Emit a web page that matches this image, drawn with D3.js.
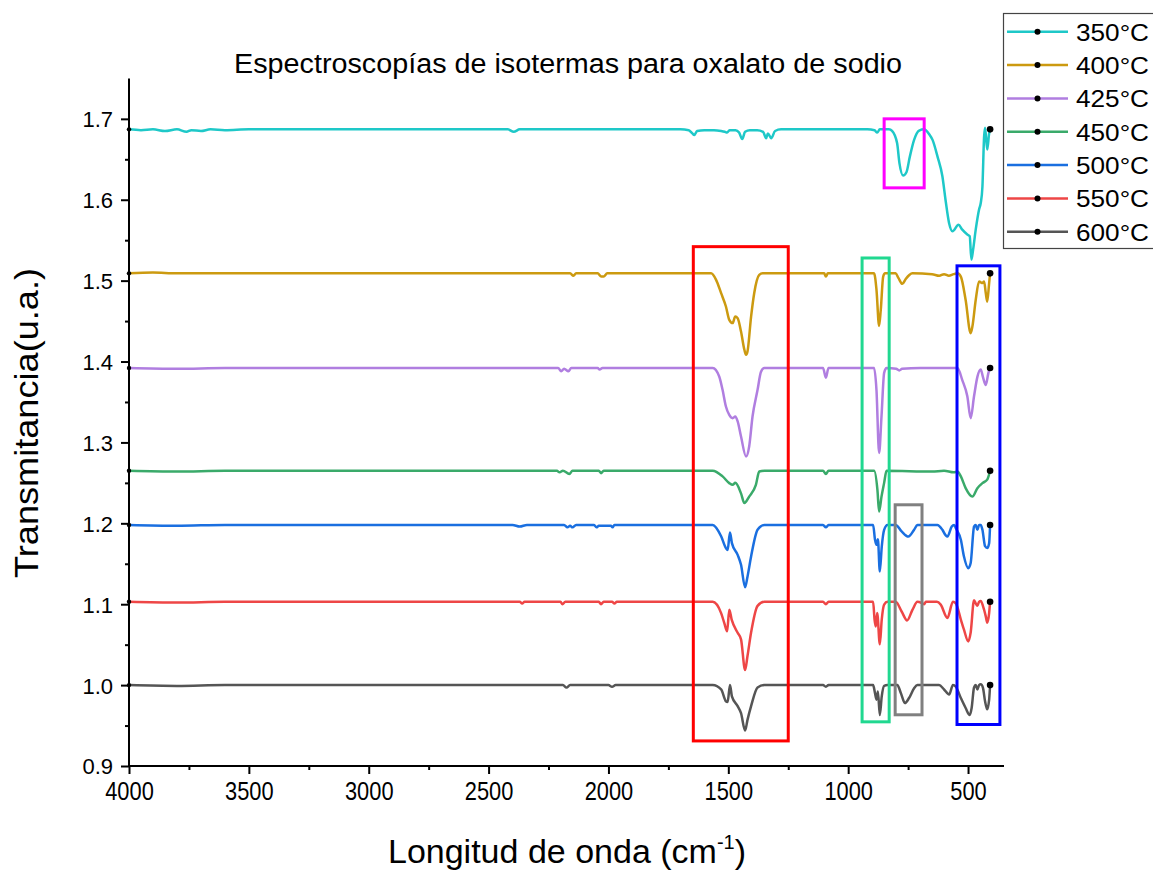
<!DOCTYPE html>
<html><head><meta charset="utf-8">
<script src="https://cdn.jsdelivr.net/npm/d3@7"></script>
<style>body{margin:0;background:#fff}svg{display:block;font-family:"Liberation Sans",Arial,sans-serif}</style>
</head><body>
<svg id="chart" width="1153" height="873"></svg>
<script>
// ---- data: [wavenumber (cm-1), transmittance] ----
const s350 = [[4000,1.687],[3950,1.686],[3900,1.687],[3850,1.685],[3800,1.687],[3760,1.684],[3740,1.686],[3700,1.685],[3660,1.687],[3600,1.686],[3500,1.687],[3000,1.687],[2420,1.687],[2395,1.684],[2370,1.687],[2100,1.687],[1700,1.687],[1665,1.686],[1650,1.682],[1642,1.680],[1630,1.685],[1600,1.686],[1560,1.686],[1530,1.685],[1515,1.684],[1505,1.683],[1495,1.686],[1470,1.686],[1455,1.683],[1442,1.675],[1430,1.684],[1410,1.686],[1380,1.686],[1355,1.684],[1342,1.676],[1335,1.682],[1321,1.676],[1305,1.685],[1280,1.687],[920,1.687],[890,1.686],[879,1.683],[868,1.687],[830,1.687],[817,1.685],[796,1.670],[786,1.645],[771,1.630],[757,1.634],[743,1.653],[725,1.674],[704,1.6855],[683,1.687],[676,1.686],[662,1.681],[648,1.674],[627,1.653],[607,1.629],[594,1.600],[579,1.571],[565,1.561],[540,1.569],[524,1.563],[503,1.557],[493,1.555],[486,1.526],[479,1.538],[468,1.563],[454,1.588],[447,1.596],[440,1.616],[433,1.678],[429,1.689],[420,1.662],[412,1.682],[408,1.687]];
const s400 = [[4000,1.509],[3900,1.510],[3800,1.509],[3700,1.509],[3000,1.509],[2200,1.509],[2160,1.509],[2146,1.506],[2135,1.509],[2045,1.509],[2030,1.505],[2020,1.505],[2005,1.509],[1700,1.509],[1600,1.509],[1572,1.509],[1551,1.501],[1530,1.4845],[1510,1.468],[1496,1.4515],[1482,1.4475],[1471,1.4556],[1461,1.4536],[1447,1.437],[1433,1.4145],[1426,1.4083],[1420,1.4124],[1405,1.4556],[1392,1.4845],[1371,1.507],[1357,1.509],[1120,1.509],[1100,1.509],[1093,1.505],[1085,1.509],[900,1.509],[892,1.509],[882,1.489],[871,1.444],[864,1.464],[854,1.505],[846,1.509],[802,1.509],[790,1.503],[774,1.496],[760,1.502],[745,1.507],[732,1.509],[650,1.508],[620,1.506],[600,1.508],[580,1.506],[560,1.508],[544,1.509],[530,1.505],[510,1.476],[489,1.435],[482,1.443],[468,1.476],[454,1.499],[447,1.498],[440,1.497],[433,1.499],[426,1.4845],[420,1.474],[412,1.497],[408,1.509]];
const s425 = [[4000,1.392],[3800,1.391],[3600,1.392],[3000,1.392],[2210,1.392],[2197,1.388],[2185,1.391],[2167,1.388],[2155,1.392],[2045,1.392],[2037,1.390],[2025,1.392],[1600,1.392],[1565,1.392],[1538,1.3815],[1524,1.365],[1510,1.3444],[1496,1.334],[1482,1.330],[1471,1.332],[1461,1.326],[1447,1.3073],[1426,1.2826],[1413,1.295],[1399,1.332],[1378,1.365],[1364,1.387],[1350,1.392],[1105,1.392],[1093,1.380],[1082,1.392],[900,1.392],[892,1.392],[882,1.365],[871,1.287],[861,1.332],[850,1.386],[840,1.392],[800,1.391],[787,1.389],[775,1.391],[700,1.392],[544,1.392],[524,1.377],[503,1.357],[489,1.330],[475,1.357],[461,1.381],[447,1.390],[438,1.381],[426,1.371],[415,1.386],[408,1.392]];
const s450 = [[4000,1.265],[3800,1.264],[3600,1.265],[3000,1.265],[2215,1.265],[2204,1.263],[2190,1.265],[2163,1.261],[2150,1.265],[2040,1.265],[2031,1.262],[2020,1.265],[1600,1.265],[1565,1.265],[1524,1.258],[1496,1.2497],[1482,1.2476],[1471,1.250],[1447,1.237],[1433,1.225],[1413,1.233],[1385,1.2476],[1371,1.264],[1350,1.265],[1105,1.265],[1093,1.261],[1082,1.265],[900,1.265],[892,1.265],[878,1.2414],[871,1.2146],[861,1.233],[850,1.250],[840,1.265],[650,1.264],[600,1.265],[560,1.263],[544,1.264],[530,1.258],[510,1.2435],[482,1.233],[461,1.2435],[440,1.2497],[420,1.254],[408,1.265]];
const s500 = [[4000,1.198],[3800,1.197],[3600,1.198],[3000,1.198],[2400,1.198],[2370,1.196],[2340,1.198],[2185,1.198],[2171,1.195],[2160,1.197],[2150,1.195],[2135,1.198],[2060,1.198],[2050,1.195],[2040,1.197],[1990,1.197],[1983,1.195],[1975,1.198],[1600,1.198],[1565,1.198],[1530,1.184],[1510,1.1694],[1503,1.167],[1493,1.1886],[1485,1.1755],[1461,1.161],[1447,1.1487],[1430,1.121],[1420,1.134],[1405,1.159],[1378,1.192],[1350,1.198],[1105,1.198],[1093,1.195],[1082,1.198],[900,1.198],[896,1.198],[888,1.1796],[882,1.1734],[876,1.1804],[868,1.1404],[860,1.171],[850,1.192],[836,1.198],[802,1.198],[777,1.190],[749,1.1836],[725,1.192],[711,1.198],[676,1.198],[628,1.198],[607,1.192],[593,1.185],[586,1.1836],[568,1.196],[558,1.198],[551,1.194],[530,1.1796],[517,1.159],[499,1.1446],[489,1.151],[475,1.196],[468,1.198],[461,1.192],[454,1.198],[447,1.198],[440,1.192],[429,1.1717],[420,1.1694],[412,1.1755],[408,1.198]];
const s550 = [[4000,1.103],[3800,1.102],[3600,1.103],[3000,1.103],[2370,1.103],[2360,1.101],[2350,1.103],[2200,1.103],[2192,1.100],[2180,1.103],[2040,1.103],[2031,1.100],[2020,1.103],[1985,1.103],[1975,1.101],[1965,1.103],[1600,1.103],[1565,1.103],[1530,1.089],[1517,1.077],[1505,1.0665],[1496,1.093],[1486,1.081],[1461,1.0647],[1447,1.0565],[1430,1.0186],[1420,1.036],[1405,1.065],[1378,1.098],[1350,1.103],[1105,1.103],[1093,1.100],[1082,1.103],[900,1.103],[896,1.103],[890,1.081],[885,1.0725],[879,1.089],[868,1.0506],[860,1.081],[850,1.0995],[836,1.103],[802,1.103],[777,1.091],[754,1.080],[732,1.093],[711,1.103],[690,1.101],[683,1.100],[676,1.103],[630,1.103],[614,1.0995],[586,1.083],[563,1.103],[551,1.101],[530,1.081],[517,1.0686],[499,1.054],[489,1.065],[475,1.105],[468,1.101],[461,1.098],[454,1.103],[447,1.104],[438,1.098],[426,1.085],[420,1.077],[412,1.089],[408,1.103]];
const s600 = [[4000,1.000],[3800,0.999],[3600,1.000],[3000,1.000],[2190,1.000],[2175,0.997],[2160,1.000],[2000,1.000],[1985,0.998],[1970,1.000],[1600,1.000],[1565,1.000],[1530,0.9946],[1510,0.980],[1503,0.979],[1493,1.000],[1485,0.986],[1461,0.974],[1447,0.9654],[1430,0.9438],[1420,0.957],[1405,0.974],[1378,0.997],[1350,1.000],[1105,1.000],[1093,0.998],[1082,1.000],[900,1.000],[896,1.000],[888,0.990],[882,0.982],[876,0.992],[868,0.963],[860,0.986],[850,0.999],[836,1.000],[795,1.000],[780,0.990],[763,0.9778],[746,0.984],[725,0.996],[711,1.000],[621,1.000],[600,0.9946],[579,0.9884],[563,1.000],[551,0.998],[530,0.984],[510,0.9717],[493,0.963],[485,0.9717],[475,0.997],[468,1.000],[461,0.9946],[454,1.000],[447,1.001],[438,0.997],[429,0.980],[420,0.970],[412,0.982],[408,1.000]];

const seriesNames = ["350°C","400°C","425°C","450°C","500°C","550°C","600°C"];
const seriesData = [s350, s400, s425, s450, s500, s550, s600];
const seriesColors = ["#1ec8c8","#cc9a10","#b07ee0","#3aaa6a","#1a6fe0","#ee4646","#555555"];

// highlight boxes [wn_left, wn_right, T_top, T_bottom]
const boxExtents = [[1646,1250,1.542,0.931],[942,829,1.528,0.9546],[850,683,1.700,1.6147],[804,692,1.2229,0.9633],[546,367,1.5183,0.9513]];
const boxColors = ["#ff0000","#20d890","#ff00ff","#808080","#0000ff"];

const xTicks = [4000,3500,3000,2500,2000,1500,1000,500];
const yTicks = [0.9,1.0,1.1,1.2,1.3,1.4,1.5,1.6,1.7];
const titleText = "Espectroscopías de isotermas para oxalato de sodio";

// ---- drawing ----
const svg = d3.select("#chart");
const x = d3.scaleLinear().domain([4000, 350]).range([129, 1004]);
const y = d3.scaleLinear().domain([0.9, 1.75]).range([766, 78.4]);

function squeeze(sel, f){
  sel.each(function(){
    const L = this.getComputedTextLength();
    d3.select(this).attr("textLength", L*f).attr("lengthAdjust","spacingAndGlyphs");
  });
}
function fitWidth(sel, w){
  sel.attr("textLength", w).attr("lengthAdjust","spacingAndGlyphs");
}

const line = d3.line().x(d=>x(d[0])).y(d=>y(d[1])).curve(d3.curveMonotoneX);

const plot = svg.append("g");
seriesData.forEach((s,i)=>{
  plot.append("path").datum(s).attr("d",line).attr("fill","none")
    .attr("stroke",seriesColors[i]).attr("stroke-width",2.5).attr("stroke-linejoin","round");
});
seriesData.forEach((s,i)=>{
  const a = s[0], b = s[s.length-1];
  plot.append("circle").attr("cx",x(a[0])).attr("cy",y(a[1])).attr("r",2.2).attr("fill","#000");
  plot.append("circle").attr("cx",x(b[0])).attr("cy",y(b[1])).attr("r",3.3).attr("fill","#000");
});

boxExtents.forEach((b,i)=>{
  svg.append("rect").attr("x",x(b[0])).attr("y",y(b[2]))
    .attr("width",x(b[1])-x(b[0])).attr("height",y(b[3])-y(b[2]))
    .attr("fill","none").attr("stroke",boxColors[i]).attr("stroke-width",3);
});

// axes
const xAxis = d3.axisBottom(x).tickValues(xTicks).tickSize(8).tickFormat(d3.format("d"));
const xMinor = d3.axisBottom(x).tickValues(d3.range(3750,350,-500)).tickSize(4).tickFormat("");
const yAxis = d3.axisLeft(y).tickValues(yTicks).tickSize(8).tickFormat(d3.format(".1f"));
const yMinor = d3.axisLeft(y).tickValues(d3.range(0.95,1.75,0.1)).tickSize(4).tickFormat("");

function styleAxis(g){
  g.select(".domain").attr("stroke","#000").attr("stroke-width",2);
  g.selectAll(".tick line").attr("stroke","#000").attr("stroke-width",2);
}
const gx = svg.append("g").attr("transform","translate(0,766)").call(xAxis);
svg.append("g").attr("transform","translate(0,766)").call(xMinor).call(g=>{g.select(".domain").remove();g.selectAll(".tick line").attr("stroke","#000").attr("stroke-width",2);});
styleAxis(gx);
gx.selectAll(".tick text").attr("font-size",26).attr("fill","#000").attr("y",11).attr("dy","0.9em").attr("font-family","Liberation Sans, Arial");
squeeze(gx.selectAll(".tick text"), 0.84);
gx.select(".domain").attr("d","M129,0H1004");

const gy = svg.append("g").attr("transform","translate(129,0)").call(yAxis);
svg.append("g").attr("transform","translate(129,0)").call(yMinor).call(g=>{g.select(".domain").remove();g.selectAll(".tick line").attr("stroke","#000").attr("stroke-width",2);});
styleAxis(gy);
gy.select(".domain").attr("d","M0,766V78.4");
gy.selectAll(".tick text").attr("font-size",22).attr("fill","#000").attr("x",-16).attr("dy","0.36em").attr("font-family","Liberation Sans, Arial");

// titles
const tt = svg.append("text").attr("x",568).attr("y",73).attr("text-anchor","middle")
  .attr("font-size",27).attr("fill","#000").text(titleText);
fitWidth(tt, 668);

const yt = svg.append("text").attr("transform","translate(38,423) rotate(-90)").attr("text-anchor","middle")
  .attr("font-size",33).attr("fill","#000").text("Transmitancia(u.a.)");
fitWidth(yt, 310);

const xt = svg.append("text").attr("x",567).attr("y",863).attr("text-anchor","middle")
  .attr("font-size",34).attr("fill","#000");
xt.append("tspan").text("Longitud de onda (cm");
xt.append("tspan").attr("font-size",20).attr("dy",-14).text("-1");
xt.append("tspan").attr("dy",14).text(")");

// legend
const lg = svg.append("g");
lg.append("rect").attr("x",1003.5).attr("y",13.5).attr("width",160).attr("height",235)
  .attr("fill","#fff").attr("stroke","#444").attr("stroke-width",1.2);
seriesNames.forEach((n,i)=>{
  const yy = 31.7 + i*33.35;
  lg.append("line").attr("x1",1007).attr("x2",1068).attr("y1",yy).attr("y2",yy)
    .attr("stroke",seriesColors[i]).attr("stroke-width",2.5);
  lg.append("circle").attr("cx",1037.5).attr("cy",yy).attr("r",3).attr("fill","#000");
  const t = lg.append("text").attr("x",1076).attr("y",yy).attr("dy","0.36em").attr("font-size",24.5)
    .attr("fill","#000").text(n);
  fitWidth(t, 73);
});
</script>
</body></html>
